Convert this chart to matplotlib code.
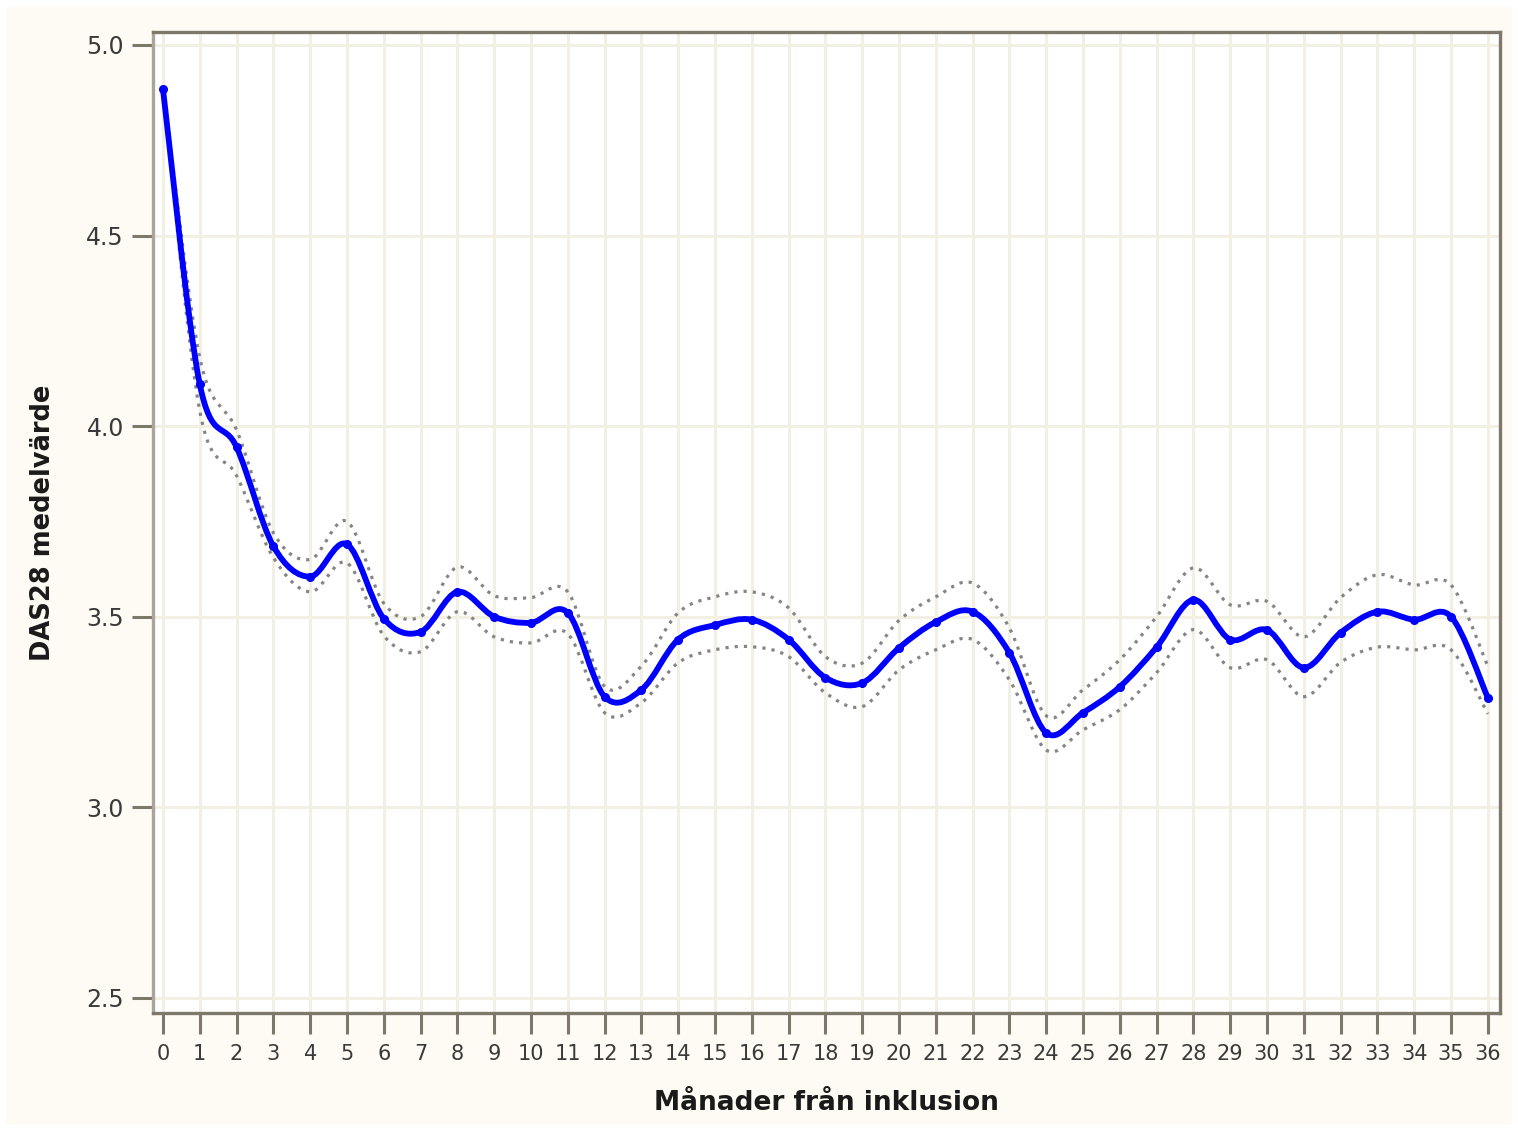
import numpy as np
import matplotlib
matplotlib.use("Agg")
import matplotlib.pyplot as plt
from matplotlib.path import Path
from matplotlib.patches import PathPatch, Rectangle

months = list(range(0, 37))
mean_das28 = [4.885, 4.11, 3.945, 3.685, 3.605, 3.69, 3.495, 3.46, 3.565, 3.50,
              3.484, 3.51, 3.29, 3.308, 3.44, 3.478, 3.492, 3.44, 3.34, 3.326,
              3.418, 3.486, 3.513, 3.405, 3.195, 3.248, 3.316, 3.42, 3.544, 3.44,
              3.465, 3.366, 3.458, 3.513, 3.492, 3.50, 3.287]
upper_ci = [4.89, 4.18, 3.99, 3.72, 3.65, 3.75, 3.535, 3.50, 3.63, 3.555,
            3.55, 3.565, 3.317, 3.37, 3.51, 3.552, 3.565, 3.523, 3.395, 3.378,
            3.49, 3.552, 3.588, 3.47, 3.24, 3.308, 3.387, 3.50, 3.628, 3.531,
            3.54, 3.447, 3.55, 3.61, 3.583, 3.583, 3.37]
lower_ci = [4.88, 4.04, 3.87, 3.655, 3.565, 3.641, 3.45, 3.408, 3.513, 3.447,
            3.431, 3.455, 3.248, 3.274, 3.379, 3.413, 3.421, 3.395, 3.30, 3.264,
            3.36, 3.413, 3.44, 3.334, 3.15, 3.203, 3.256, 3.353, 3.466, 3.366,
            3.387, 3.29, 3.38, 3.42, 3.413, 3.413, 3.245]
yticks = [2.5, 3.0, 3.5, 4.0, 4.5, 5.0]
xlabel = "Månader från inklusion"
ylabel = "DAS28 medelvärde"


def smooth_path(xs, ys):
    """Catmull-Rom spline through the data points as cubic Bezier path."""
    P = np.column_stack([xs, ys]).astype(float)
    n = len(P)
    verts = [P[0]]
    codes = [Path.MOVETO]
    for i in range(n - 1):
        p0 = P[i - 1] if i > 0 else P[i]
        p1 = P[i]
        p2 = P[i + 1]
        p3 = P[i + 2] if i + 2 < n else P[i + 1]
        c1 = p1 + (p2 - p0) / 6.0
        c2 = p2 - (p3 - p1) / 6.0
        verts += [c1, c2, p2]
        codes += [Path.CURVE4] * 3
    return Path(verts, codes)


fig = plt.figure(figsize=(15.18, 11.28), dpi=100, facecolor="white")
bg = Rectangle((6 / 1518, 3 / 1128), 1506 / 1518, 1118 / 1128,
               transform=fig.transFigure, facecolor="#fdfbf3",
               edgecolor="none", zorder=-10)
fig.add_artist(bg)

ax = fig.add_axes([153 / 1518, 1 - 1013 / 1128, (1500 - 153) / 1518, (1013 - 32) / 1128])
ax.set_zorder(5)
ax.set_facecolor("white")
ax.set_xlim(-0.27, 36.33)
ax.set_ylim(2.46, 5.034)

grid_c = "#f2f0e3"
ax.set_xticks(months)
ax.set_yticks(yticks)
ax.grid(True, color=grid_c, linewidth=2.2, zorder=0)
ax.set_axisbelow(True)

for s in ax.spines.values():
    s.set_linewidth(2.4)
    s.set_color("#7d786a")
ax.spines["left"].set_color("#a9a59a")

ax.tick_params(axis="both", direction="out", length=15, width=2.2, color="#7d786a",
               labelcolor="#3a3a3a")
ax.tick_params(axis="x", pad=7, labelsize=15)
ax.tick_params(axis="y", pad=6, labelsize=17)
ax.set_xticklabels([str(m) for m in months])
ax.set_yticklabels([f"{v:.1f}" for v in yticks])

# confidence bands (dotted grey)
for band in (upper_ci, lower_ci):
    ax.add_patch(PathPatch(smooth_path(months, band), facecolor="none",
                           edgecolor="#858585", linewidth=2.3, linestyle=(0, (1, 1.9)),
                           zorder=3))

# mean line
ax.add_patch(PathPatch(smooth_path(months, mean_das28), facecolor="none",
                       edgecolor="#0000ff", linewidth=4.2, zorder=4,
                       capstyle="round", joinstyle="round"))
ax.plot(months, mean_das28, linestyle="none", marker="o", markersize=5.5,
        color="#0000ff", zorder=5)

ax.set_xlabel(xlabel, fontsize=19, fontweight="bold", color="#1a1a1a", labelpad=19)
ax.set_ylabel(ylabel, fontsize=18.5, fontweight="bold", color="#1a1a1a", labelpad=22)

fig.savefig("out.png", dpi=100, facecolor=fig.get_facecolor())
